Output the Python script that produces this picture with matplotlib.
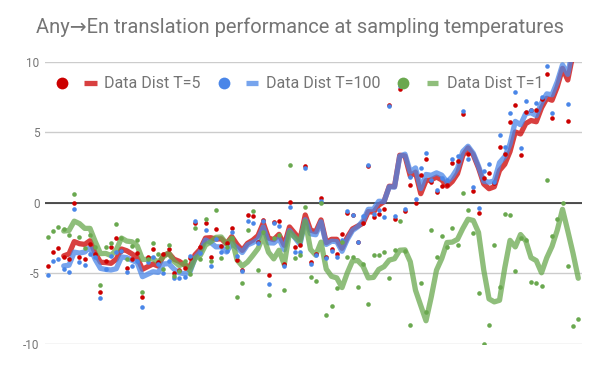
import matplotlib
matplotlib.use('Agg')
import matplotlib.pyplot as plt
from matplotlib.lines import Line2D
import numpy as np
import pandas as pd

plt.rcParams['font.family'] = ['Roboto', 'DejaVu Sans']
plt.rcParams['axes.unicode_minus'] = False

title = 'Any\u2192En translation performance at sampling temperatures'
labels = ['Data Dist T=5', 'Data Dist T=100', 'Data Dist T=1']

# scores per sample (points outside -10..10 are clipped there)
t5 = [-4.5, -3.5, -3.2, -3.8, -3.95, 0.0, -3.8, -4.0, -2.9, -3.6,
      -6.3, -4.1, -3.1, -2.45, -3.4, -4.6, -4.0, -3.55, -6.65, -3.85,
      -3.25, -4.15, -3.6, -3.25, -4.95, -4.75, -4.6, -3.9, -1.45, -3.15,
      -1.45, -3.8, -1.85, -3.05, -2.85, -1.8, -4.05, -4.75, -0.85, -0.9,
      -2.75, -1.2, -5.1, -1.35, -1.25, -4.3, 0.1, -3.15, -3.0, 2.65,
      -4.2, -3.6, 0.35, -3.8, -3.25, -3.6, -2.2, -0.7, -0.85, -2.8,
      -1.4, 2.6, -1.0, -0.8, -0.4, 6.95, -1.1, 8.1, -0.6, 1.25,
      0.0, 2.0, 3.1, 1.5, 0.75, 1.2, 1.3, 2.85, 3.0, 6.3,
      3.5, 0.85, -0.7, 1.75, 2.15, 1.4, 3.95, 3.5, 5.75, 6.95,
      3.4, 6.45, 6.6, 6.6, 7.35, 9.15, 6.05, 10.4, 12.6, 5.85,
      13.5, 11.5]
t100 = [-5.1, -4.1, -3.95, -4.7, -4.9, -0.4, -4.2, -4.4, -3.6, -3.8,
        -6.75, -4.7, -3.75, -3.45, -3.4, -4.9, -4.5, -4.1, -7.4, -4.2,
        -3.8, -4.3, -5.0, -4.1, -5.35, -5.35, -5.25, -3.75, -1.3, -3.55,
        -1.9, -4.45, -2.55, -3.5, -3.4, -2.05, -3.75, -4.85, -1.25, -1.4,
        -2.85, -1.3, -5.75, -1.45, -1.6, -4.45, -0.3, -3.45, -3.5, 2.5,
        -4.3, -3.7, 0.15, -3.9, -3.4, -3.8, -2.6, -0.55, -0.85, -2.75,
        -0.9, 2.7, -0.8, -0.5, -1.0, 6.9, -0.9, 8.3, -0.45, 1.85,
        0.25, 2.45, 3.55, 1.6, 0.95, 1.8, 1.6, 3.15, 3.3, 6.55,
        3.1, 1.15, -0.35, 2.3, 2.8, 1.5, 4.85, 4.0, 6.4, 7.9,
        3.9, 7.2, 6.6, 7.1, 7.5, 9.75, 6.35, 10.8, 12.3, 7.05,
        14.0, 12.0]
t1 = [-2.4, -2.0, -1.7, -1.85, -2.25, 0.65, -2.4, -3.2, -2.25, -3.1,
      -5.8, -3.15, -2.85, -1.5, -2.45, -4.0, -3.05, -2.65, -6.3, -4.0,
      -2.85, -3.65, -4.7, -3.0, -5.2, -4.85, -4.1, -5.05, -1.75, -4.0,
      -1.15, -4.1, -0.5, -3.9, -3.1, -2.45, -6.7, -5.65, -1.95, -0.6,
      -4.75, -2.05, -6.55, -2.5, -2.3, -6.15, 2.7, -3.9, -3.7, -0.3,
      -5.25, -5.55, 0.0, -7.95, -7.3, -6.0, -2.75, -3.8, -3.85, -5.95,
      -4.3, -7.15, -3.7, -3.7, -3.5, -5.3, -3.3, -1.3, -3.4, -8.65,
      -11.4, -5.65, -7.7, -1.9, -3.8, -2.35, -3.15, -1.8, -3.0, 0.7,
      -0.5, -2.15, -6.4, -10.0, -8.65, -3.0, -5.95, -0.8, -0.85, -4.85,
      -2.45, -2.6, -5.6, -5.7, -5.9, 1.65, -2.35, -1.1, 0.0, -4.45,
      -8.7, -8.2]

dot_colors = ['#cc0000', '#4a86e8', '#6aa84f']
txt_color = '#757575'

fig = plt.figure(figsize=(6, 3.71), dpi=100)
ax = fig.add_axes([45 / 600, 1 - 344 / 371, 537 / 600, 282 / 371])

x = np.arange(len(t5))
for vals, c in zip([t5, t100, t1], dot_colors):
    # 4-point moving average trendline, as in the original chart
    ma = pd.Series(vals).rolling(4).mean()
    ax.plot(x, ma, color=c, alpha=0.75, lw=3.8, solid_joinstyle='round',
            solid_capstyle='round', zorder=3)
for vals, c in zip([t5, t100, t1], dot_colors):
    ax.plot(x, vals, 'o', color=c, ms=3.3, mew=0, zorder=4)

ax.set_xlim(-0.57, len(t5) - 1 + 0.71)
ax.set_ylim(-10, 10)
ax.set_yticks([-10, -5, 0, 5, 10])
ax.set_xticks([])
ax.yaxis.grid(True, color='#cccccc', lw=1)
ax.set_axisbelow(True)
ax.axhline(0, color='#333333', lw=1.2, zorder=2)
for s in ax.spines.values():
    s.set_visible(False)
ax.tick_params(axis='y', length=0, pad=4, labelsize=8.5, labelcolor=txt_color)

fig.text(0.5, 1 - 27 / 371, title, ha='center', va='center',
         fontsize=14.5, color=txt_color)

# legend drawn by hand: dot, short line, label
ly = 1 - 83 / 371
leg_pos = [(62, 84, 97, 104), (224, 246, 258, 266), (403, 427, 438, 447)]
for (dx, l0, l1, tx), c, lab in zip(leg_pos, dot_colors, labels):
    fig.add_artist(Line2D([dx / 600], [ly], marker='o', ms=8.5, mew=0, color=c,
                          linestyle='none', transform=fig.transFigure))
    fig.add_artist(Line2D([l0 / 600, l1 / 600], [ly, ly], lw=3.8, color=c, alpha=0.75,
                          solid_capstyle='butt', transform=fig.transFigure))
    fig.text(tx / 600, ly, lab, ha='left', va='center', fontsize=11.5, color=txt_color)

plt.savefig('out.png', dpi=100)
